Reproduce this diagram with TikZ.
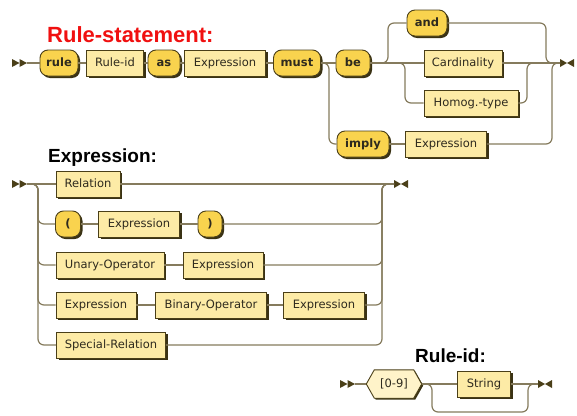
\documentclass[tikz,border=0pt]{standalone}
\usepackage{fontspec}
\setmainfont{DejaVu Sans}
\newfontfamily\titlefont{Liberation Sans}
\usetikzlibrary{shadows,calc}
\definecolor{termc}{HTML}{F9D34E}
\definecolor{ntc}{HTML}{FDEBA6}
\definecolor{hexc}{HTML}{FFF3C9}
\definecolor{bordc}{HTML}{4A3F18}
\definecolor{shadc}{HTML}{3A3214}
\definecolor{linec}{HTML}{857B5D}
\definecolor{textc}{HTML}{2E2A1E}
\definecolor{titlered}{HTML}{F01010}
\tikzset{
  railbox/.style={draw=bordc, line width=0.9pt, minimum height=26pt, inner sep=0pt,
    text height=8.5pt, text depth=2.4pt, text=textc,
    drop shadow={shadow xshift=2pt, shadow yshift=-2pt, fill=shadc, opacity=1}},
  railterm/.style={railbox, fill=termc, rounded corners=8pt, font=\fontsize{11.5}{13}\selectfont\bfseries},
  railnt/.style={railbox, fill=ntc, font=\fontsize{11.5}{13}\selectfont},
  conn/.style={draw=linec, line width=1.2pt, rounded corners=6pt},
  titletext/.style={anchor=base west, inner sep=0pt, font=\titlefont\bfseries\fontsize{19}{21}\selectfont},
  railbegin/.pic={\fill[bordc] (-15,-4) -- (-7.5,0) -- (-15,4) -- cycle;
                  \fill[bordc] (-7.5,-4) -- (0,0) -- (-7.5,4) -- cycle;},
  railend/.pic={\fill[bordc] (0,-4) -- (7,0) -- (0,4) -- cycle;
                \fill[bordc] (14,-4) -- (7,0) -- (14,4) -- cycle;},
}
\begin{document}
\begin{tikzpicture}[x=1pt,y=-1pt]
\useasboundingbox[fill=white] (0,0) rectangle (577,415);

% ---------------- Rule-statement ----------------
\node[titletext, text=titlered, font=\titlefont\bfseries\fontsize{22}{24}\selectfont] (t1) at (47,42) {Rule-statement:};
\coordinate (sm1) at (27,63);
\coordinate (em1) at (560,63);
\pic at (sm1) {railbegin};
\pic at (em1) {railend};

\node[railterm, minimum width=38pt] (rule) at (59,63) {rule};
\node[railnt, minimum width=57pt] (ruleid) at (115,63) {Rule-id};
\node[railterm, minimum width=32pt] (as) at (164,63) {as};
\node[railnt, minimum width=81pt] (expr1) at (225,63) {Expression};
\node[railterm, minimum width=47pt] (must) at (297,63) {must};
\node[railterm, minimum width=34pt] (be) at (353,63) {be};
\node[railterm, minimum width=40pt] (and) at (427,23) {and};
\node[railnt, minimum width=78pt] (card) at (463,63) {Cardinality};
\node[railnt, minimum width=94pt] (homog) at (471,103) {Homog.-type};
\node[railterm, minimum width=52pt] (imply) at (363,144) {imply};
\node[railnt, minimum width=81pt] (expr2) at (446,144) {Expression};

\coordinate (andL) at (388,23);
\coordinate (andR) at (546,63);
\coordinate (homL) at (405,103);
\coordinate (homR) at (527,63);
\coordinate (impL) at (329,144);
\coordinate (impR) at (552,63);

\draw[conn] (sm1) -- (rule);
\draw[conn] (rule) -- (ruleid);
\draw[conn] (ruleid) -- (as);
\draw[conn] (as) -- (expr1);
\draw[conn] (expr1) -- (must);
\draw[conn] (must) -- (be);
\draw[conn] (be) -- (card);
\draw[conn] (card) -- (em1);
\draw[conn] (be.east) -| (andL) -- (and.west);
\draw[conn] (and.east) -| (andR) -- (em1);
\draw[conn] (be.east) -| (homL) -- (homog.west);
\draw[conn] (homog.east) -| (homR) -- (em1);
\draw[conn] (must.east) -| (impL) -- (imply.west);
\draw[conn] (imply) -- (expr2);
\draw[conn] (expr2.east) -| (impR) -- (em1);

% ---------------- Expression ----------------
\node[titletext] (t2) at (48,162) {Expression:};
\coordinate (sm2) at (27,184);
\coordinate (em2) at (394,184);
\pic at (sm2) {railbegin};
\pic at (em2) {railend};

\node[railnt, minimum width=64pt] (rel) at (88,184) {Relation};
\node[railterm, minimum width=25pt] (lp) at (68,224) {(};
\node[railnt, minimum width=81pt] (ex3) at (139,224) {Expression};
\node[railterm, minimum width=24pt] (rp) at (210,224) {)};
\node[railnt, minimum width=108pt] (unary) at (110,265) {Unary-Operator};
\node[railnt, minimum width=80pt] (ex4) at (223,265) {Expression};
\node[railnt, minimum width=80pt] (ex5) at (96,305) {Expression};
\node[railnt, minimum width=111pt] (binop) at (211,305) {Binary-Operator};
\node[railnt, minimum width=81pt] (ex6) at (324,305) {Expression};
\node[railnt, minimum width=109pt] (special) at (111,345) {Special-Relation};

\coordinate (bL2) at (38,224);
\coordinate (bL3) at (38,265);
\coordinate (bL4) at (38,305);
\coordinate (bL5) at (38,345);
\coordinate (bR) at (382,184);

\draw[conn] (sm2) -- (rel);
\draw[conn] (rel) -- (em2);
\draw[conn] (sm2) -| (bL2) -- (lp.west);
\draw[conn] (sm2) -| (bL3) -- (unary.west);
\draw[conn] (sm2) -| (bL4) -- (ex5.west);
\draw[conn] (sm2) -| (bL5) -- (special.west);
\draw[conn] (lp) -- (ex3);
\draw[conn] (ex3) -- (rp);
\draw[conn] (unary) -- (ex4);
\draw[conn] (ex5) -- (binop);
\draw[conn] (binop) -- (ex6);
\draw[conn] (rp.east) -| (bR) -- (em2);
\draw[conn] (ex4.east) -| (bR) -- (em2);
\draw[conn] (ex6.east) -| (bR) -- (em2);
\draw[conn] (special.east) -| (bR) -- (em2);

% ---------------- Rule-id ----------------
\node[titletext] (t3) at (415,362) {Rule-id:};
\coordinate (sm3) at (355,384);
\coordinate (em3) at (538,384);
\pic at (sm3) {railbegin};
\pic at (em3) {railend};

\node[minimum width=55pt, minimum height=28pt, inner sep=0pt] (hexn) at (394,384) {};
\fill[shadc] ($(hexn.west)+(1.5,1.5)$) -- ($(hexn.north west)+(9.5,1.5)$) -- ($(hexn.north east)+(-6.5,1.5)$)
  -- ($(hexn.east)+(1.5,1.5)$) -- ($(hexn.south east)+(-6.5,1.5)$) -- ($(hexn.south west)+(9.5,1.5)$) -- cycle;
\filldraw[fill=hexc, draw=bordc, line width=0.9pt] (hexn.west) -- ([xshift=8pt]hexn.north west) -- ([xshift=-8pt]hexn.north east)
  -- (hexn.east) -- ([xshift=-8pt]hexn.south east) -- ([xshift=8pt]hexn.south west) -- cycle;
\node[font=\fontsize{11.5}{13}\selectfont, text=textc, inner sep=0pt, text height=8.5pt, text depth=2.4pt] (hextxt) at (hexn.center) {[0-9]};
\node[railnt, minimum width=53pt] (str) at (484,384) {String};

\coordinate (lb1) at (432,412);
\coordinate (lb2) at (528,412);

\draw[conn] (sm3) -- (hexn.west);
\draw[conn] (hexn.east) -- (str);
\draw[conn] (str) -- (em3);
\draw[conn] (hexn.east) -| (lb1) -- (lb2) |- (em3);
\end{tikzpicture}
\end{document}
